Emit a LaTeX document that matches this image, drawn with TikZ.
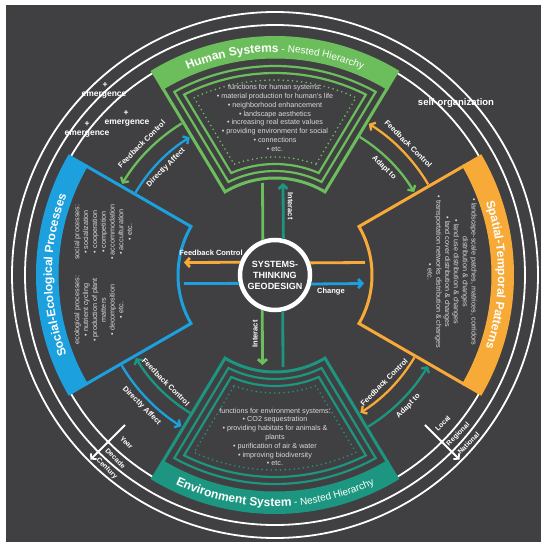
\documentclass[tikz,border=0pt]{standalone}
\usepackage{fontspec}
\setmainfont{Liberation Sans}
\usetikzlibrary{arrows.meta,decorations.text}
\definecolor{bgdark}{RGB}{64,64,66}
\definecolor{hgreen}{RGB}{108,190,92}
\definecolor{eteal}{RGB}{28,150,128}
\definecolor{sblue}{RGB}{28,160,222}
\definecolor{sorange}{RGB}{248,170,56}
\definecolor{ltext}{RGB}{218,218,218}
% annular sector: #1 centre angle, #2 half angle, #3 inner r, #4 outer r, #5 side inset
\newcommand\annsec[5]{({#1-#2+asin(#5/#3)}:#3pt) arc[start angle={#1-#2+asin(#5/#3)}, end angle={#1+#2-asin(#5/#3)}, radius=#3pt] -- ({#1+#2-asin(#5/#4)}:#4pt) arc[start angle={#1+#2-asin(#5/#4)}, end angle={#1-#2+asin(#5/#4)}, radius=#4pt] -- cycle}
\begin{document}
\begin{tikzpicture}[x=1pt,y=1pt,
  chev/.style={-{Straight Barb[length=4pt,width=9pt]}},
  chevs/.style={-{Straight Barb[length=3.5pt,width=8pt]}},
  arcline/.style={line width=2.3pt},
  xline/.style={line width=2.8pt},
  lbl/.style={font=\bfseries\fontsize{7.5}{8}\selectfont, text=white, inner sep=0pt},
  scl/.style={font=\bfseries\fontsize{7}{8}\selectfont, text=white, inner sep=0pt},
  emg/.style={font=\bfseries\fontsize{8.5}{9}\selectfont, text=white, inner sep=0pt},
  sectxt/.style={font=\fontsize{7.2}{8.8}\selectfont, text=ltext, align=center, inner sep=0pt},
  dotline/.style={line width=1.8pt, dash pattern=on 0pt off 4.6pt, line cap=round},
  ring/.style={draw=white, line width=1.8pt}]
\useasboundingbox (-275,-275) rectangle (273,275);
\fill[white] (-275,-275) rectangle (273,275);
\fill[bgdark] (-269,-267) rectangle (266,270);
% concentric white circles
\draw[ring] (0,0) circle[radius=236pt];
\draw[ring] (0,0) circle[radius=250pt];
\draw[ring] (0,0) circle[radius=263pt];

% ---------- top sector: Human Systems ----------
\draw[hgreen, line width=3pt] \annsec{90}{31}{97}{218}{0};
\fill[hgreen] \annsec{90}{31}{217}{239}{-1.5};
\draw[hgreen, line width=2.2pt] \annsec{90}{31}{104}{209}{8};
\draw[hgreen, line width=2.2pt] \annsec{90}{31}{111}{202}{15};
\draw[hgreen, dotline] \annsec{90}{31}{118}{195}{22};
\path[decorate, decoration={text along path, text align=center, text color=white,
  text={|\bfseries\fontsize{12}{14}\selectfont|Human Systems|\fontsize{10}{12}\selectfont| - Nested Hierarchy}}]
  (121:223pt) arc[start angle=121, end angle=59, radius=223pt];
\node[sectxt] (hstext) at (0,157) {functions for human systems:\\
 • material production for human's life\\
 • neighborhood enhancement\\
 • landscape aesthetics\\
 • increasing real estate values\\
 • providing environment for social\\
 • connections\\
 • etc.};

% ---------- bottom sector: Environment System ----------
\draw[eteal, line width=3pt] \annsec{270}{31}{97}{218}{0};
\fill[eteal] \annsec{270}{31}{217}{239}{-1.5};
\draw[eteal, line width=2.2pt] \annsec{270}{31}{104}{209}{8};
\draw[eteal, line width=2.2pt] \annsec{270}{31}{111}{202}{15};
\draw[eteal, dotline] \annsec{270}{31}{118}{195}{22};
\path[decorate, decoration={text along path, text align=center, text color=white,
  text={|\bfseries\fontsize{12}{14}\selectfont|Environment System|\fontsize{10}{12}\selectfont| - Nested Hierarchy}}]
  (239:231.5pt) arc[start angle=239, end angle=301, radius=231.5pt];
\node[sectxt] (estext) at (0,-162) {functions for environment systems:\\
 • CO2 sequestration\\
 • providing habitats for animals \&\\
 plants\\
 • purification of air \& water\\
 • improving biodiversity\\
 • etc.};

% ---------- left sector: Social-Ecological Processes ----------
\draw[sblue, line width=3pt] \annsec{180}{30}{97}{218}{0};
\fill[sblue] \annsec{180}{30}{217}{239}{-1.5};
\path[decorate, decoration={text along path, text align=center, text color=white,
  text={|\bfseries\fontsize{12}{14}\selectfont|Social-Ecological Processes}}]
  (210:223pt) arc[start angle=210, end angle=150, radius=223pt];
\node[sectxt, rotate=90, anchor=north] (ecotext) at (-201,-35) {ecological processes:\\
 • nutrient cycling\\
 • production of plant\\
 matters\\
 • decomposition\\
 • etc.};
\node[sectxt, rotate=90, anchor=north] (soctext) at (-201,43) {social processes:\\
 • socialization\\
 • cooperation\\
 • competition\\
 • accommodation\\
 • acculturation\\
 • etc.};

% ---------- right sector: Spatial-Temporal Patterns ----------
\draw[sorange, line width=3pt] \annsec{0}{30}{97}{218}{0};
\fill[sorange] \annsec{0}{30}{217}{239}{-1.5};
\path[decorate, decoration={text along path, text align=center, text color=white,
  text={|\bfseries\fontsize{12}{14}\selectfont|Spatial-Temporal Patterns}}]
  (30:223pt) arc[start angle=30, end angle=-30, radius=223pt];
\node[sectxt, rotate=-90, anchor=north] (sptext) at (202,3) {• landscape-scale patches, matrices, corridors\\
 distribution \& changes\\
 • land use distribution \& changes\\
 • land cover distribution \& changes\\
 • transportation networks distribution \& changes\\
 • etc.};

% ---------- arcs between sectors ----------
% upper left
\coordinate (ulo) at (121.6:178pt);
\draw[arcline, hgreen, chev] (ulo) arc[start angle=121.6, end angle=149.2, radius=178pt];
\coordinate (uli) at (149.4:162pt);
\draw[arcline, sblue, chev] (uli) arc[start angle=149.4, end angle=121.8, radius=162pt];
\node[lbl, rotate=45] (ulol) at (135.5:187pt) {Feedback Control};
\node[lbl, rotate=45] (ulil) at (135.5:153pt) {Directly Affect};
% upper right
\coordinate (uro) at (30.6:178pt);
\draw[arcline, sorange, chev] (uro) arc[start angle=30.6, end angle=58.2, radius=178pt];
\coordinate (uri) at (58.4:162pt);
\draw[arcline, hgreen, chev] (uri) arc[start angle=58.4, end angle=30.8, radius=162pt];
\node[lbl, rotate=-45] (urol) at (44.5:187pt) {Feedback Control};
\node[lbl, rotate=-45] (uril) at (44.5:153pt) {Adapt to};
% lower left
\coordinate (llo) at (210.6:178pt);
\draw[arcline, sblue, chev] (llo) arc[start angle=210.6, end angle=238.2, radius=178pt];
\coordinate (lli) at (238.4:162pt);
\draw[arcline, eteal, chev] (lli) arc[start angle=238.4, end angle=210.8, radius=162pt];
\node[lbl, rotate=-45] (llol) at (224.5:187pt) {Directly Affect};
\node[lbl, rotate=-45] (llil) at (224.5:153pt) {Feedback Control};
% lower right
\coordinate (lro) at (301.6:178pt);
\draw[arcline, eteal, chev] (lro) arc[start angle=301.6, end angle=329.2, radius=178pt];
\coordinate (lri) at (329.4:162pt);
\draw[arcline, sorange, chev] (lri) arc[start angle=329.4, end angle=301.8, radius=162pt];
\node[lbl, rotate=45] (lrol) at (315.5:187pt) {Adapt to};
\node[lbl, rotate=45] (lril) at (315.5:153pt) {Feedback Control};

% ---------- centre ----------
\node[circle, draw=white, line width=4.5pt, fill=bgdark, minimum size=70pt, inner sep=0pt,
  font=\bfseries\fontsize{9}{11}\selectfont, text=white, align=center] (core) at (0,0)
  {SYSTEMS-\\THINKING\\GEODESIGN};
\coordinate (tg) at (-12.5,92);
\coordinate (tt) at (8,92);
\coordinate (bg) at (-12.5,-90);
\coordinate (bt) at (8,-92);
\coordinate (ro) at (90,12.5);
\coordinate (lo) at (-91,12.5);
\coordinate (lb) at (-91,-8.5);
\coordinate (rb) at (89,-8.5);
\draw[xline, hgreen] (core.109.7) -- (tg);
\draw[xline, eteal, chev] (core.77.5) -- (tt);
\draw[xline, hgreen, chev] (core.250.3) -- (bg);
\draw[xline, eteal] (core.282.5) -- (bt);
\draw[xline, sorange] (core.19.8) -- (ro);
\draw[xline, sorange, chev] (core.160.2) -- (lo);
\draw[xline, sblue] (core.193.3) -- (lb);
\draw[xline, sblue, chev] (core.346.7) -- (rb);
\node[lbl, rotate=-90] (intt) at (15.5,69) {Interact};
\node[lbl, rotate=90] (intb) at (-20,-59) {Interact};
\node[lbl] (fbl) at (-64,22) {Feedback Control};
\node[lbl] (chg) at (56,-17) {Change};

% ---------- outer annotations ----------
\node[emg] (pl1) at (-170,190) {+};
\node[emg] (em1) at (-171,180) {emergence};
\node[emg] (pl2) at (-149,162) {+};
\node[emg] (em2) at (-148,152) {emergence};
\node[emg] (pl3) at (-188,151) {+};
\node[emg] (em3) at (-188,141) {emergence};
\node[font=\bfseries\fontsize{9.5}{10}\selectfont, text=white, inner sep=0pt] (selforg) at (181,172) {self-organization};

\coordinate (ya) at (225:212pt);
\coordinate (yb) at (225:261pt);
\draw[white, line width=1.8pt, chevs] (ya) -- (yb);
\node[scl, rotate=-45] (yr) at (228.5:224pt) {Year};
\node[scl, rotate=-45] (dc) at (229:243pt) {Decade};
\node[scl, rotate=-45] (ct) at (229:256.5pt) {Century};

\coordinate (la) at (-45:212pt);
\coordinate (lb2) at (-45:261pt);
\draw[white, line width=1.8pt, chevs] (la) -- (lb2);
\node[scl, rotate=45] (lc) at (-41.5:224pt) {Local};
\node[scl, rotate=45] (rg) at (-41:243pt) {Regional};
\node[scl, rotate=45] (nt) at (-41:256.5pt) {National};
\end{tikzpicture}
\end{document}
